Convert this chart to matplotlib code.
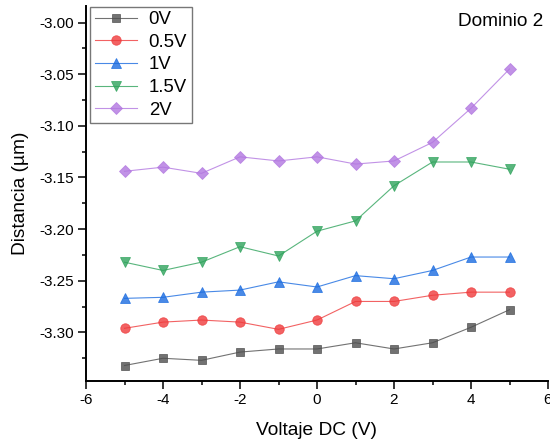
import matplotlib
matplotlib.use("Agg")
from matplotlib import pyplot as plt
from matplotlib.ticker import MultipleLocator, FormatStrFormatter

plt.rcParams['font.family'] = ['Liberation Sans', 'DejaVu Sans']
plt.rcParams['axes.unicode_minus'] = False

voltaje = [-5, -4, -3, -2, -1, 0, 1, 2, 3, 4, 5]

d_0v = [-3.332, -3.325, -3.327, -3.319, -3.316, -3.316, -3.310, -3.316, -3.310, -3.295, -3.278]
d_05v = [-3.296, -3.290, -3.288, -3.290, -3.297, -3.288, -3.270, -3.270, -3.264, -3.261, -3.261]
d_1v = [-3.267, -3.266, -3.261, -3.259, -3.251, -3.256, -3.245, -3.248, -3.240, -3.227, -3.227]
d_15v = [-3.232, -3.240, -3.232, -3.217, -3.226, -3.202, -3.192, -3.158, -3.135, -3.135, -3.142]
d_2v = [-3.144, -3.140, -3.146, -3.130, -3.134, -3.130, -3.137, -3.134, -3.116, -3.083, -3.045]

etiquetas = ['0V', '0.5V', '1V', '1.5V', '2V']

# color, marcador y tamaño de cada serie
series = [
    (d_0v, '#4f4f4f', 's', 5.5),
    (d_05v, '#ef3b3c', 'o', 6.8),
    (d_1v, '#1b6ce0', '^', 7.4),
    (d_15v, '#2fa35c', 'v', 7.4),
    (d_2v, '#b277e0', 'D', 5.7),
]

fig = plt.figure(figsize=(5.5, 4.42), dpi=100)
ax = fig.add_axes([86 / 550, 1 - 381 / 442, 462 / 550, 375 / 442])

for (vals, color, mk, ms), lab in zip(series, etiquetas):
    ax.plot(voltaje, vals, color=color, lw=0.8, alpha=0.8, marker=mk,
            markersize=ms, markerfacecolor=color, markeredgecolor=color,
            markeredgewidth=0.6, label=lab)

ax.set_xlim(-6, 6)
ax.set_ylim(-3.347, -2.984)

ax.xaxis.set_major_locator(MultipleLocator(2))
ax.xaxis.set_minor_locator(MultipleLocator(1))
ax.yaxis.set_major_locator(MultipleLocator(0.05))
ax.yaxis.set_minor_locator(MultipleLocator(0.025))
ax.yaxis.set_major_formatter(FormatStrFormatter('%.2f'))

for s in ['top', 'right']:
    ax.spines[s].set_visible(False)
for s in ['left', 'bottom']:
    ax.spines[s].set_linewidth(1.4)

ax.tick_params(which='major', direction='out', length=5.8, width=1.1, labelsize=11, pad=3)
ax.tick_params(which='minor', direction='out', length=3, width=1.1)

ax.set_xlabel('Voltaje DC (V)', fontsize=13.8)
ax.set_ylabel('Distancia (µm)', fontsize=13.8)
ax.xaxis.set_label_coords(0.5, -0.132)
ax.xaxis.label.set_va('center')
ax.yaxis.set_label_coords(-0.141, 0.5)
ax.yaxis.label.set_va('center')

leg = ax.legend(loc='upper left', bbox_to_anchor=(90 / 550, 1 - 6.5 / 442),
                bbox_transform=fig.transFigure, fontsize=13.4, frameon=True,
                fancybox=False, edgecolor='#555555', borderaxespad=0,
                borderpad=0.25, labelspacing=0.3, handlelength=2.3,
                handletextpad=0.6)
leg.get_frame().set_linewidth(1.0)

fig.text(543 / 550, 1 - 22 / 442, 'Dominio 2', ha='right', va='center', fontsize=13.7)

fig.savefig('out.png', dpi=100)
